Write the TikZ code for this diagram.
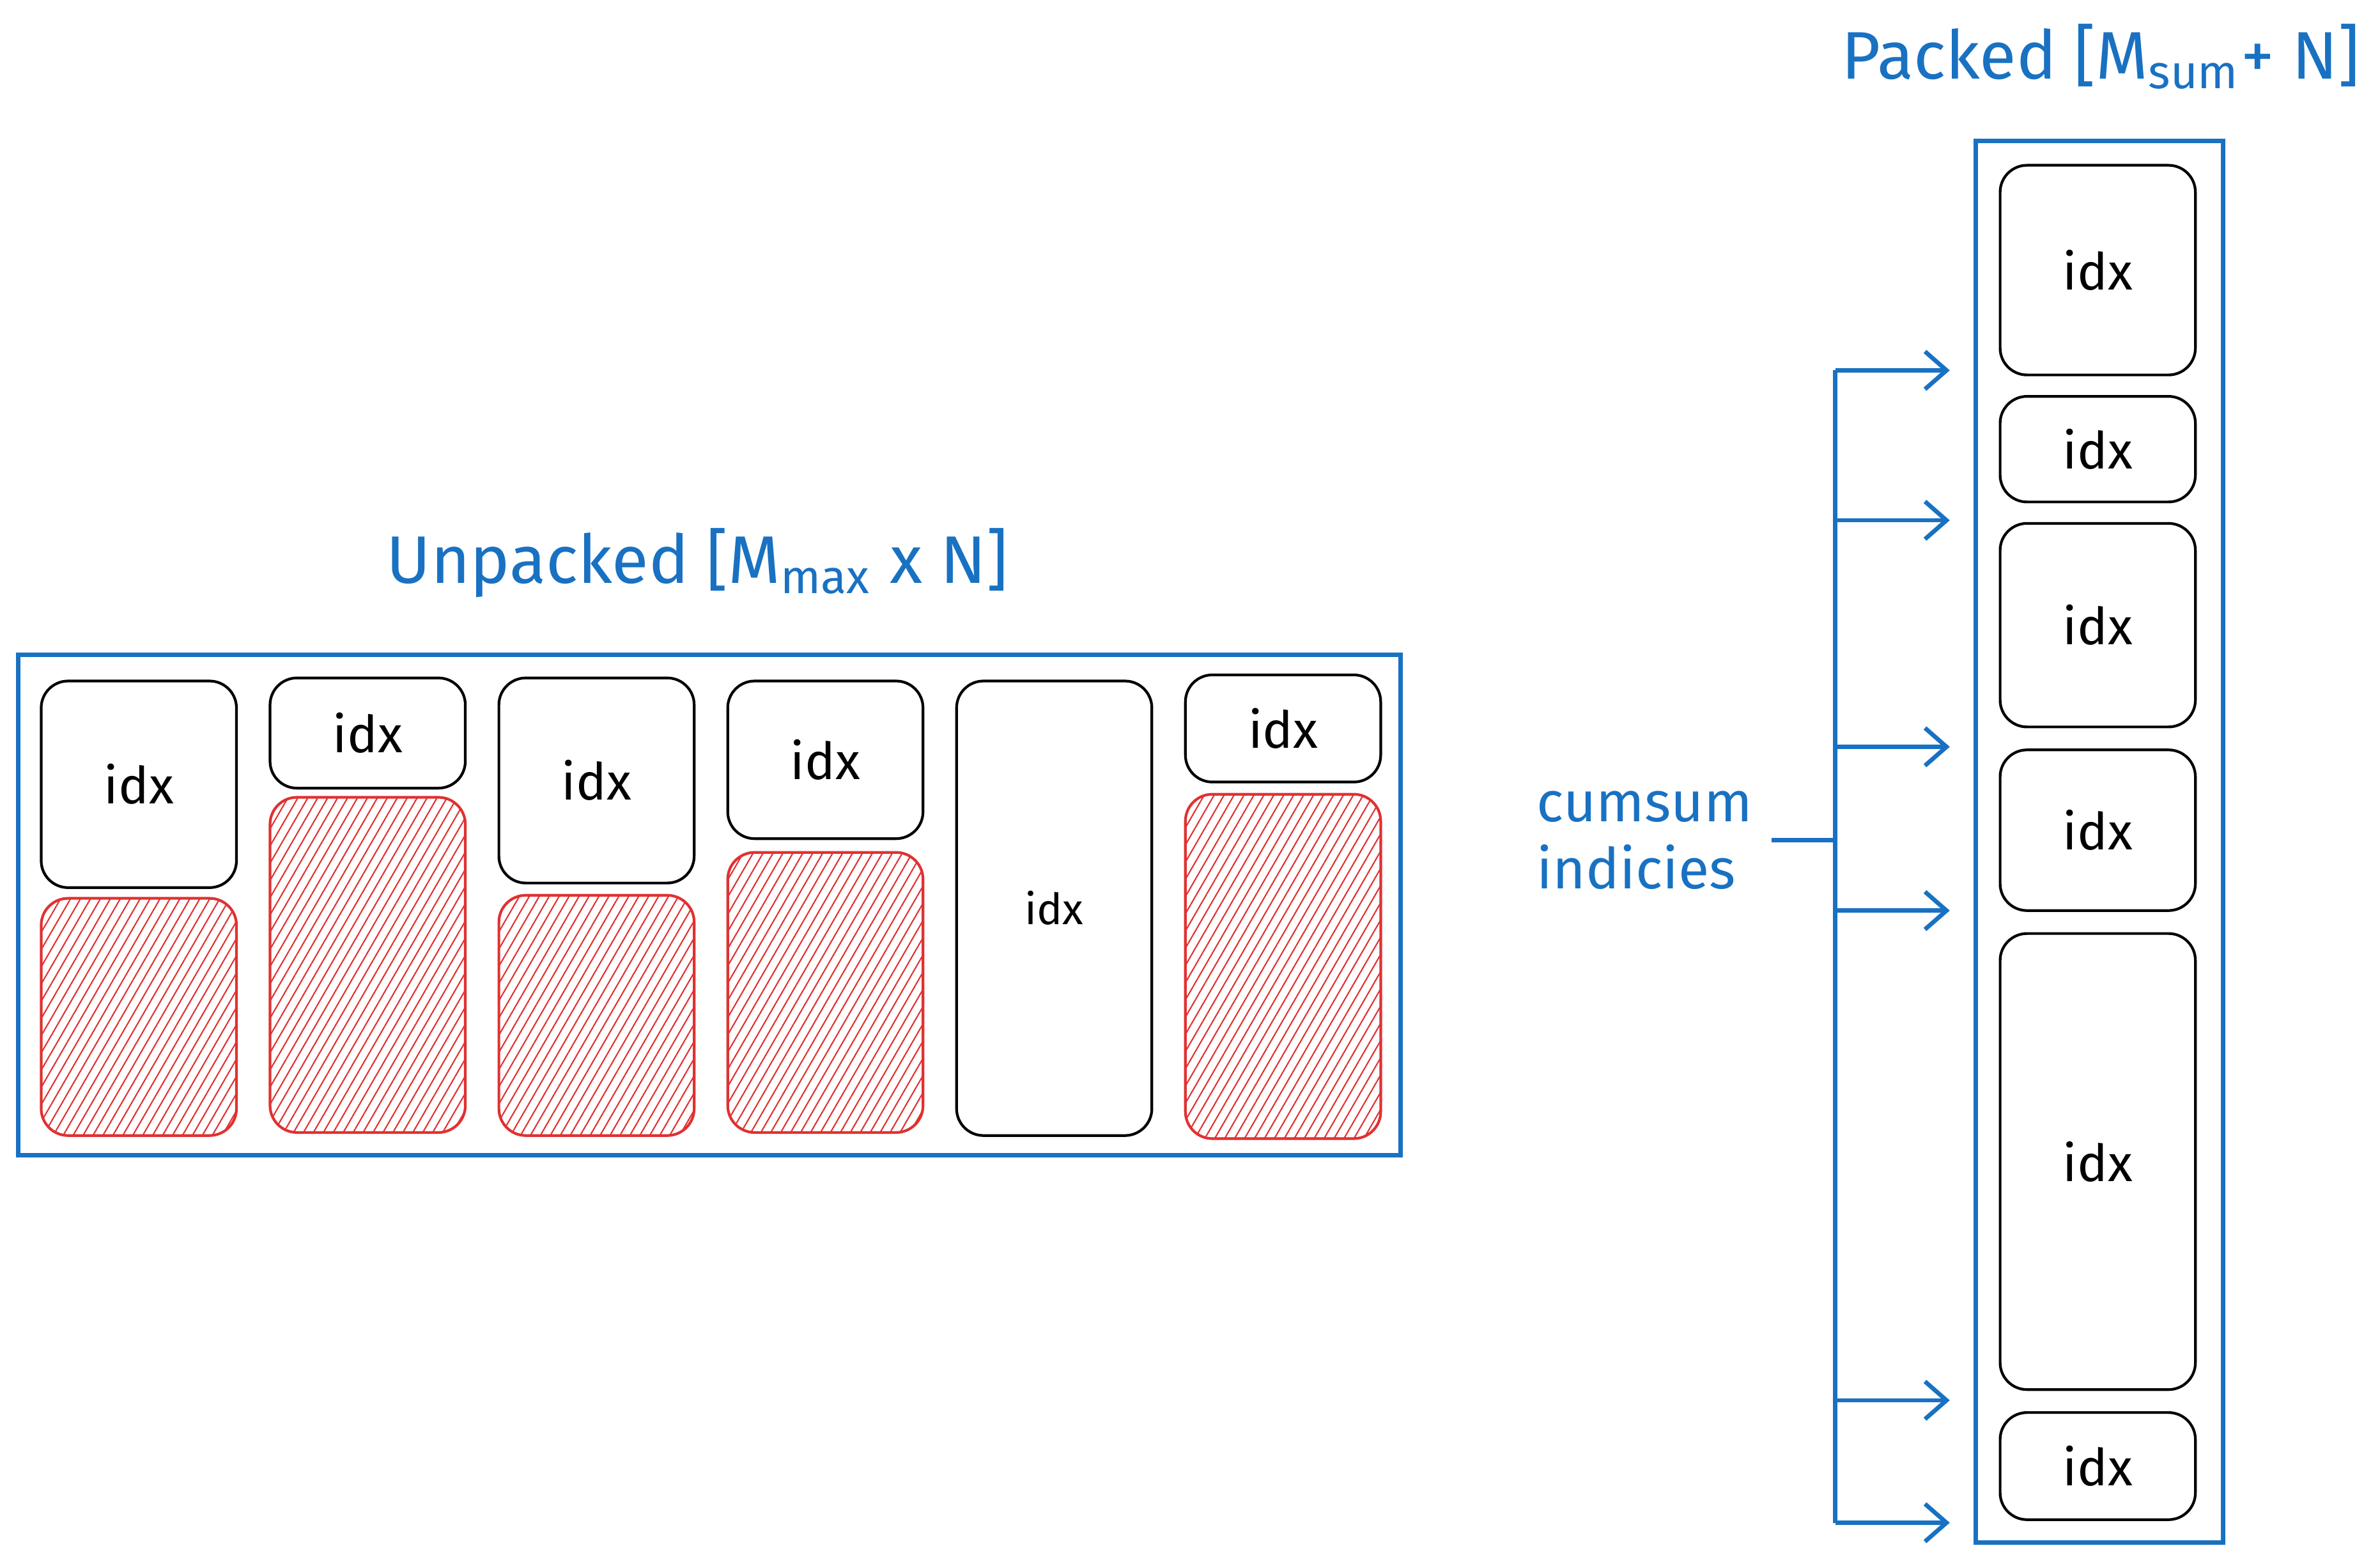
\documentclass[tikz,border=0pt]{standalone}
\usepackage{fontspec}
\setmainfont{Fira Sans}
\usetikzlibrary{patterns.meta,arrows.meta}
\definecolor{eblue}{HTML}{1971C2}
\definecolor{ered}{HTML}{E03131}
\begin{document}
\begin{tikzpicture}[x=0.00997cm,y=-0.01cm,
  cell/.style={draw=black,line width=0.5pt,rounded corners=5pt},
  pad/.style={draw=ered,line width=0.5pt,rounded corners=5pt,pattern={Lines[angle=60,distance=1.6pt,line width=0.25pt]},pattern color=ered},
  frame/.style={draw=eblue,line width=0.8pt},
  lbl/.style={font=\fontsize{9.5}{10}\selectfont},
  ttl/.style={text=eblue,font=\fontsize{12.5}{13}\selectfont},
  arr/.style={draw=eblue,line width=0.8pt,-{Straight Barb[length=4pt,width=7pt]}}]
\useasboundingbox (0,0) rectangle (1560,1016);
\draw[frame] (12,428) rectangle (918,755);
\node[ttl] (tu) at (457,368) {Unpacked [M$_{\mathrm{max}}$ x N]};
\foreach \x/\a/\b [count=\i] in {27/445/580,177/443/515,327/443/577,477/445/548,777/441/511}{
  \draw[cell] (\x,\a) rectangle (\x+128,\b) node[lbl,midway] (u\i) {idx};
}
\fill[pad] (27,587) rectangle (155,742);
\fill[pad] (177,521) rectangle (305,740);
\fill[pad] (327,585) rectangle (455,742);
\fill[pad] (477,557) rectangle (605,740);
\fill[pad] (777,519) rectangle (905,744);
\draw[cell] (627,445) rectangle (755,742) node[midway,font=\fontsize{8}{9}\selectfont] (u6) {idx};
\draw[frame] (1295,92) rectangle (1457,1008);
\node[ttl] (tp) at (1377,37) {Packed [M$_{\mathrm{sum}}$+ N]};
\foreach \a/\b [count=\i] in {108/245,259/328,342/475,490/595,610/908,923/993}{
  \draw[cell] (1311,\a) rectangle (1439,\b) node[lbl,midway] (p\i) {idx};
}
\node[text=eblue,font=\fontsize{10.5}{12.5}\selectfont,align=left] (cs) at (1078,549) {cumsum\\indicies};
\coordinate (j) at (1203,549);
\draw[eblue,line width=0.8pt] (cs.east) -- (j);
\coordinate (top) at (1203,242);
\coordinate (bot) at (1203,995);
\draw[eblue,line width=0.8pt] (top) -- (bot);
\foreach \y [count=\i] in {242,340,488,595,915,995}{
  \coordinate (s\i) at (1203,\y);
  \coordinate (e\i) at (1278,\y);
  \draw[arr] (s\i) -- (e\i);
}
\end{tikzpicture}
\end{document}
